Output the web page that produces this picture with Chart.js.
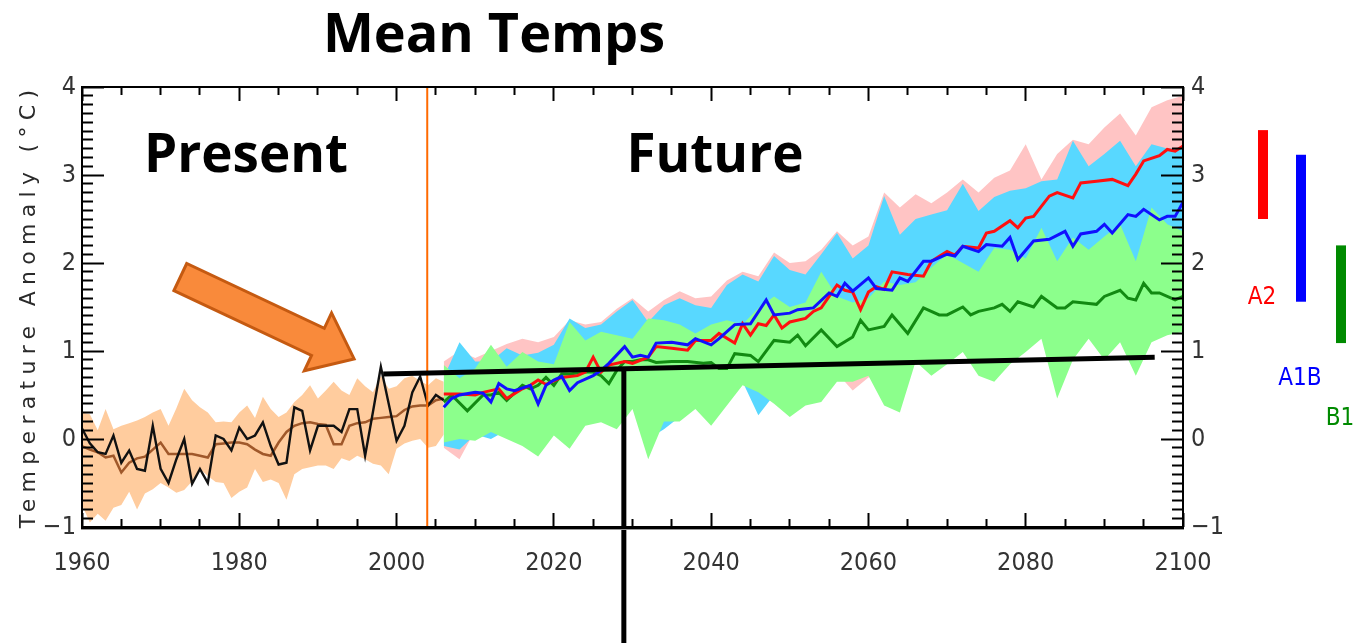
<!DOCTYPE html>
<html>
<head>
<meta charset="utf-8">
<script src="https://cdn.jsdelivr.net/npm/chart.js@4.4.0/dist/chart.umd.min.js"></script>
<style>
  html, body { margin: 0; padding: 0; background: #fff; }
</style>
</head>
<body>
<canvas id="tempChart" width="1356" height="643"></canvas>
<script>
// ---- observed record (black) and 20th century model mean (brown) ----
const obsYears = [1960,1961,1962,1963,1964,1965,1966,1967,1968,1969,1970,1971,1972,1973,1974,1975,1976,1977,1978,1979,1980,1981,1982,1983,1984,1985,1986,1987,1988,1989,1990,1991,1992,1993,1994,1995,1996,1997,1998,1999,2000,2001,2002,2003,2004,2005,2006];
const obsTemps = [0.12,-0.05,-0.15,-0.17,0.04,-0.27,-0.13,-0.34,-0.36,0.15,-0.34,-0.5,-0.23,0.0,-0.51,-0.34,-0.5,0.04,0.0,-0.13,0.13,0.0,0.04,0.19,-0.08,-0.29,-0.27,0.36,0.32,-0.13,0.15,0.15,0.15,0.08,0.34,0.34,-0.19,0.31,0.82,0.4,-0.02,0.15,0.53,0.71,0.38,0.5,0.44];
const histMean = [-0.08,-0.12,-0.15,-0.21,-0.19,-0.38,-0.27,-0.22,-0.2,-0.12,-0.04,-0.17,-0.17,-0.17,-0.17,-0.19,-0.21,-0.06,-0.05,-0.04,-0.04,-0.06,-0.12,-0.17,-0.19,-0.04,0.08,0.15,0.18,0.19,0.17,0.16,-0.06,-0.06,0.15,0.18,0.19,0.23,0.24,0.25,0.26,0.33,0.37,0.38,0.38,0.44,0.46];
const histHigh = [0.3,0.28,0.1,0.34,0.11,0.15,0.18,0.21,0.25,0.3,0.34,0.15,0.35,0.57,0.44,0.36,0.3,0.19,0.2,0.19,0.3,0.38,0.24,0.48,0.34,0.25,0.3,0.42,0.5,0.61,0.46,0.55,0.65,0.55,0.5,0.69,0.6,0.53,0.72,0.57,0.6,0.69,0.72,0.66,0.61,0.69,0.65];
const histLow = [-0.75,-0.95,-0.85,-0.93,-0.78,-0.75,-0.6,-0.8,-0.62,-0.57,-0.5,-0.55,-0.61,-0.58,-0.48,-0.34,-0.42,-0.49,-0.5,-0.67,-0.6,-0.55,-0.34,-0.49,-0.46,-0.5,-0.69,-0.4,-0.34,-0.32,-0.3,-0.3,-0.34,-0.22,-0.25,-0.19,-0.23,-0.28,-0.3,-0.4,-0.11,-0.05,-0.02,0.0,-0.1,-0.08,0.05];

// ---- scenario ranges 2006-2100 ----
const rangeYears = [2006,2008,2010,2012,2014,2016,2018,2020,2022,2024,2026,2028,2030,2032,2034,2036,2038,2040,2042,2044,2046,2048,2050,2052,2054,2056,2058,2060,2062,2064,2066,2068,2070,2072,2074,2076,2078,2080,2082,2084,2086,2088,2090,2092,2094,2096,2098,2100];
const a2High = [0.88,1.0,0.92,1.0,1.08,1.14,1.1,1.16,1.35,1.3,1.33,1.48,1.6,1.45,1.58,1.68,1.6,1.62,1.8,1.9,1.85,2.12,2.0,2.02,2.15,2.36,2.2,2.3,2.8,2.63,2.78,2.68,2.8,2.95,2.8,2.97,3.05,3.35,2.95,3.24,3.4,3.35,3.54,3.7,3.45,3.77,3.85,3.9];
const a2Low = [-0.1,-0.23,0.1,0.1,0.15,0.1,0.0,0.15,0.1,0.3,0.3,0.3,0.45,0.1,0.3,0.35,0.5,0.4,0.55,0.7,0.6,0.45,0.55,0.6,0.7,0.75,0.55,0.7,0.75,0.8,1.1,1.1,1.2,1.3,1.2,1.2,1.3,1.4,1.5,1.2,1.4,1.5,1.5,1.6,1.5,1.6,1.7,1.7];
const a1bHigh = [0.7,1.1,0.88,0.88,1.03,0.95,0.98,1.07,1.37,1.26,1.3,1.45,1.58,1.33,1.52,1.6,1.52,1.49,1.75,1.87,1.79,2.08,1.92,1.87,2.1,2.34,2.05,2.2,2.76,2.32,2.5,2.55,2.6,2.9,2.59,2.75,2.82,2.85,2.93,2.95,3.39,3.1,3.24,3.39,3.1,3.35,3.3,3.31];
const a1bLow = [-0.08,-0.12,0.05,0.0,0.1,0.05,-0.1,0.1,-0.04,0.25,0.25,0.2,0.4,0.0,0.11,0.25,0.4,0.3,0.5,0.65,0.27,0.5,0.4,0.5,0.55,0.7,0.75,0.8,0.6,0.55,1.0,0.9,1.0,1.1,0.95,0.9,1.05,1.1,1.25,0.8,1.1,1.25,1.15,1.25,1.0,1.3,1.3,1.35];
const b1High = [0.84,0.69,0.8,1.07,0.82,0.99,0.88,0.85,1.33,1.12,1.22,1.18,1.14,1.37,1.35,1.3,1.2,1.3,1.35,1.3,1.49,1.62,1.5,1.55,1.9,1.62,1.55,1.6,1.79,1.75,1.78,1.95,2.1,2.0,1.9,2.17,2.15,2.05,2.4,2.02,2.29,2.15,2.3,2.44,2.02,2.63,2.44,2.36];
const b1Low = [-0.04,0.0,-0.02,0.08,0.0,-0.08,-0.2,0.04,-0.11,0.15,0.19,0.11,0.34,-0.23,0.2,0.2,0.34,0.15,0.38,0.61,0.53,0.4,0.25,0.38,0.42,0.65,0.65,0.72,0.38,0.3,0.88,0.72,0.85,0.99,0.72,0.65,0.85,0.99,1.14,0.46,0.9,1.14,0.9,1.1,0.72,1.1,1.18,1.22];

// ---- scenario means ----
const a2Years = [2006,2008,2010,2011,2013,2014,2016,2017,2018,2019,2021,2023,2024,2025,2026,2027,2029,2030,2032,2033,2035,2037,2038,2040,2041,2043,2044,2045,2046,2047,2048,2049,2050,2052,2053,2054,2055,2056,2057,2058,2059,2060,2061,2062,2063,2065,2067,2068,2070,2071,2072,2074,2075,2076,2078,2079,2080,2081,2083,2084,2086,2087,2089,2091,2093,2094,2095,2097,2098,2099,2100];
const a2Mean = [0.51,0.51,0.5,0.53,0.57,0.46,0.57,0.61,0.67,0.62,0.7,0.72,0.76,0.93,0.76,0.84,0.88,0.86,0.93,1.05,1.03,1.01,1.12,1.12,1.2,1.09,1.31,1.18,1.31,1.29,1.41,1.26,1.33,1.37,1.45,1.49,1.62,1.75,1.69,1.67,1.47,1.67,1.73,1.7,1.9,1.87,1.85,2.02,2.13,2.09,2.19,2.17,2.34,2.36,2.48,2.4,2.51,2.53,2.76,2.8,2.74,2.91,2.93,2.95,2.88,3.01,3.16,3.22,3.29,3.27,3.33];
const a1bYears = [2006,2007,2008,2010,2011,2012,2013,2014,2015,2017,2018,2019,2020,2021,2022,2023,2025,2026,2027,2029,2030,2031,2032,2033,2035,2037,2038,2040,2041,2043,2045,2047,2048,2050,2051,2053,2055,2056,2057,2058,2060,2061,2063,2064,2065,2067,2068,2070,2071,2072,2074,2075,2077,2078,2079,2081,2083,2085,2086,2087,2089,2090,2091,2093,2094,2095,2097,2098,2099,2100];
const a1bMean = [0.36,0.46,0.5,0.53,0.52,0.42,0.63,0.57,0.55,0.61,0.4,0.61,0.67,0.71,0.55,0.64,0.72,0.78,0.86,1.05,0.93,0.95,0.93,1.09,1.1,1.07,1.14,1.07,1.14,1.3,1.31,1.58,1.41,1.43,1.47,1.49,1.66,1.62,1.77,1.68,1.83,1.71,1.69,1.83,1.79,2.02,2.02,2.1,2.08,2.19,2.13,2.21,2.19,2.29,2.04,2.25,2.27,2.36,2.19,2.33,2.36,2.44,2.34,2.55,2.53,2.61,2.49,2.53,2.53,2.69];
const b1Years = [2006,2007,2009,2011,2012,2013,2014,2016,2017,2018,2019,2020,2021,2022,2024,2025,2026,2027,2028,2029,2030,2031,2032,2033,2035,2037,2039,2040,2041,2042,2043,2045,2046,2048,2050,2051,2052,2054,2056,2058,2059,2060,2062,2063,2065,2067,2069,2070,2072,2073,2074,2076,2077,2078,2079,2081,2082,2084,2085,2086,2088,2089,2090,2092,2093,2094,2095,2096,2097,2099,2100];
const b1Mean = [0.42,0.5,0.32,0.5,0.5,0.53,0.44,0.61,0.57,0.61,0.7,0.61,0.74,0.74,0.76,0.76,0.72,0.63,0.78,0.88,0.88,0.9,0.9,0.87,0.88,0.88,0.86,0.87,0.8,0.8,0.97,0.95,0.88,1.12,1.1,1.18,1.06,1.24,1.05,1.16,1.35,1.24,1.28,1.41,1.2,1.49,1.41,1.41,1.5,1.41,1.45,1.49,1.53,1.45,1.56,1.5,1.62,1.49,1.49,1.56,1.54,1.53,1.62,1.69,1.6,1.58,1.77,1.66,1.66,1.58,1.62];

// ---- annotations (data units) ----
const splitYear = 2003.9;
const flatLineYears = [1998.3, 2096.4];
const flatLineTemps = [0.74, 0.93];
const dropYear = 2028.9;
const dropTemp = 0.78;
const arrowYears = [1972.5, 1994.6];
const arrowTemps = [1.84, 0.91];

// ---- scenario spread bars on the right ----
const scenarioNames = ['A2', 'A1B', 'B1'];
const scenarioTop = [3.51, 3.23, 2.2];
const scenarioBottom = [2.5, 1.56, 1.09];
const scenarioLabelAt = [1.61, 0.68, 0.23];
const scenarioColors = ['#ff0000', '#0000ff', '#008a00'];

const pts = (xs, ys) => xs.map((x, i) => ({ x: x, y: ys[i] }));
const tickFont = { family: '"Liberation Sans Narrow", "DejaVu Sans Condensed", "Liberation Sans", sans-serif', size: 25 };
const whole = (v, step) => Math.abs(v / step - Math.round(v / step)) < 1e-6;
const tempLabel = v => whole(v, 1) ? (v < 0 ? '\u2212' + Math.abs(Math.round(v)) : String(Math.round(v))) : '';
const yearLabel = v => whole(v, 20) ? String(Math.round(v)) : '';

// inward ticks drawn by the axes themselves (negative tick length);
// minor ticks are shortened with a dash pattern
function tickGrid(len, minorDash, isMajor) {
  return {
    display: true, drawOnChartArea: false, drawTicks: true, z: 1,
    tickLength: -len, tickWidth: 2, tickColor: '#000',
    tickBorderDash: c => (c.tick && isMajor(c.tick.value)) ? [] : minorDash
  };
}

function band(hi, lo, years, color) {
  return [
    { data: pts(years, hi), borderWidth: 0, pointRadius: 0, backgroundColor: color, fill: '+1' },
    { data: pts(years, lo), borderWidth: 0, pointRadius: 0, fill: false }
  ];
}
function line(years, vals, color, w) {
  return { data: pts(years, vals), borderColor: color, borderWidth: w, pointRadius: 0, fill: false, tension: 0 };
}

const datasets = [
  ...band(histHigh, histLow, obsYears, 'rgb(255,204,158)'),
  ...band(a2High, a2Low, rangeYears, 'rgb(255,196,196)'),
  ...band(a1bHigh, a1bLow, rangeYears, 'rgb(88,216,255)'),
  ...band(b1High, b1Low, rangeYears, 'rgb(140,255,140)'),
  line(obsYears, histMean, '#a0582a', 2.5),
  line(obsYears, obsTemps, '#111111', 2.4),
  line(b1Years, b1Mean, '#128a12', 3),
  line(a2Years, a2Mean, '#ff1010', 3),
  line(a1bYears, a1bMean, '#1010ff', 3)
];
datasets.forEach((d, i) => { d.order = datasets.length - i; });

// box round the plot
const frame = {
  id: 'frame',
  afterDraw(chart) {
    const ctx = chart.ctx;
    const a = chart.chartArea;
    const L = Math.round(a.left), R = Math.round(a.right);
    const T = Math.round(a.top), B = Math.round(a.bottom);
    ctx.save();
    ctx.fillStyle = '#000';
    ctx.fillRect(L - 1, T - 1, R - L + 2, 2);
    ctx.fillRect(L - 1, B - 1, R - L + 2, 3);
    ctx.fillRect(L - 1, T - 1, 2, B - T + 2);
    ctx.fillRect(R - 1, T - 1, 2, B - T + 2);
    ctx.fillStyle = '#999';
    ctx.fillRect(L - 1, B + 2, R - L + 2, 1);
    ctx.restore();
  }
};

const overlay = {
  id: 'overlay',
  afterDatasetsDraw(chart) {
    const ctx = chart.ctx;
    const a = chart.chartArea;
    const x = chart.scales.x, y = chart.scales.y;
    ctx.save();

    // orange divider
    ctx.strokeStyle = '#ff6a00';
    ctx.lineWidth = 2;
    ctx.beginPath();
    ctx.moveTo(x.getPixelForValue(splitYear), a.top);
    ctx.lineTo(x.getPixelForValue(splitYear), a.bottom);
    ctx.stroke();

    // black reference lines
    ctx.strokeStyle = '#000';
    ctx.lineWidth = 5;
    ctx.beginPath();
    ctx.moveTo(x.getPixelForValue(flatLineYears[0]), y.getPixelForValue(flatLineTemps[0]));
    ctx.lineTo(x.getPixelForValue(flatLineYears[1]), y.getPixelForValue(flatLineTemps[1]));
    ctx.moveTo(x.getPixelForValue(dropYear), y.getPixelForValue(dropTemp));
    ctx.lineTo(x.getPixelForValue(dropYear), chart.height);
    ctx.stroke();

    // block arrow
    const x0 = x.getPixelForValue(arrowYears[0]), y0 = y.getPixelForValue(arrowTemps[0]);
    const x1 = x.getPixelForValue(arrowYears[1]), y1 = y.getPixelForValue(arrowTemps[1]);
    const len = Math.hypot(x1 - x0, y1 - y0);
    const ux = (x1 - x0) / len, uy = (y1 - y0) / len, nx = -uy, ny = ux;
    const shaft = 15, head = 32, headLen = 40;
    const bx = x1 - ux * headLen, by = y1 - uy * headLen;
    ctx.beginPath();
    ctx.moveTo(x0 + nx * shaft, y0 + ny * shaft);
    ctx.lineTo(bx + nx * shaft, by + ny * shaft);
    ctx.lineTo(bx + nx * head, by + ny * head);
    ctx.lineTo(x1, y1);
    ctx.lineTo(bx - nx * head, by - ny * head);
    ctx.lineTo(bx - nx * shaft, by - ny * shaft);
    ctx.lineTo(x0 - nx * shaft, y0 - ny * shaft);
    ctx.closePath();
    ctx.fillStyle = '#f98a3b';
    ctx.fill();
    ctx.strokeStyle = '#c55a11';
    ctx.lineWidth = 3;
    ctx.stroke();

    // big labels
    ctx.fillStyle = '#000';
    ctx.textAlign = 'center';
    ctx.textBaseline = 'alphabetic';
    ctx.font = 'bold 54px "Open Sans", sans-serif';
    ctx.fillText('Mean Temps', 494, 52);
    ctx.font = 'bold 53px "Open Sans", sans-serif';
    ctx.fillText('Present', 246, 172);
    ctx.fillText('Future', 715, 172);

    // scenario bars
    const barX = [1263, 1301, 1341];
    ctx.font = '24px "Liberation Sans Narrow", "DejaVu Sans Condensed", sans-serif';
    ctx.textBaseline = 'middle';
    scenarioNames.forEach((name, i) => {
      const top = y.getPixelForValue(scenarioTop[i]);
      const bot = y.getPixelForValue(scenarioBottom[i]);
      ctx.fillStyle = scenarioColors[i];
      ctx.fillRect(barX[i] - 5, top, 10, bot - top);
      ctx.fillText(name, barX[i] - 1, y.getPixelForValue(scenarioLabelAt[i]));
    });

    // axis title, spaced out along the axis
    const title = 'Temperature Anomaly (\u00B0C)';
    ctx.font = '22px "DejaVu Sans", sans-serif';
    const w = ctx.measureText(title).width;
    ctx.letterSpacing = Math.max(0, (438 - w) / (title.length - 1)).toFixed(1) + 'px';
    ctx.translate(29, 306);
    ctx.rotate(-Math.PI / 2);
    ctx.fillStyle = '#2a2a2a';
    ctx.textAlign = 'center';
    ctx.fillText(title, 0, 0);
    ctx.restore();
  }
};

new Chart(document.getElementById('tempChart').getContext('2d'), {
  type: 'line',
  data: { datasets: datasets },
  options: {
    responsive: false,
    animation: false,
    layout: { padding: { top: 87 } },
    plugins: {
      legend: { display: false },
      tooltip: { enabled: false },
      title: { display: false }
    },
    scales: {
      x: {
        type: 'linear', position: 'bottom', min: 1960, max: 2100,
        grid: tickGrid(14, [8, 100], v => whole(v, 20)),
        border: { display: false },
        ticks: { stepSize: 5, autoSkip: false, maxRotation: 0, padding: 35, color: '#333', font: tickFont, callback: yearLabel },
        afterFit: s => { s.height = 116; }
      },
      xTop: {
        type: 'linear', position: 'top', min: 1960, max: 2100, display: true,
        grid: tickGrid(14, [0, 6, 8, 100], v => whole(v, 20)),
        border: { display: false },
        ticks: { display: false, stepSize: 5, autoSkip: false },
        afterFit: s => { s.height = 0; }
      },
      y: {
        position: 'left', min: -1, max: 4,
        grid: tickGrid(22, [0, 11, 11, 100], v => whole(v, 1)),
        border: { display: false },
        ticks: { stepSize: 0.1, autoSkip: false, padding: 28, color: '#333', font: tickFont, callback: tempLabel },
        afterFit: s => { s.width = 82; }
      },
      y2: {
        position: 'right', min: -1, max: 4, display: true,
        grid: tickGrid(22, [11, 100], v => whole(v, 1)),
        border: { display: false },
        ticks: { stepSize: 0.1, autoSkip: false, padding: 30, color: '#333', font: tickFont, callback: tempLabel },
        afterFit: s => { s.width = 173; }
      }
    }
  },
  plugins: [overlay, frame]
});
</script>
</body>
</html>
